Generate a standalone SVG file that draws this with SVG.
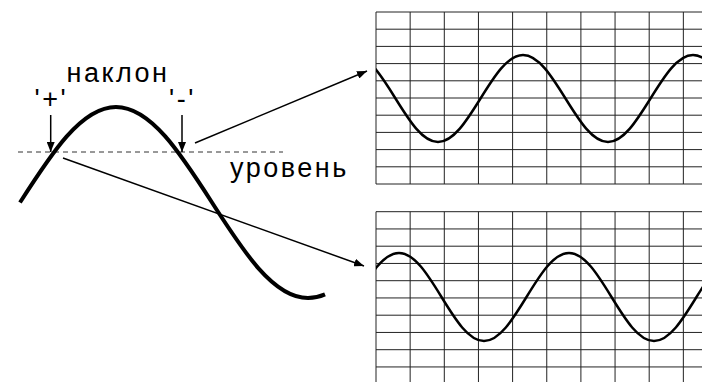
<svg xmlns="http://www.w3.org/2000/svg" width="702" height="382" viewBox="0 0 702 382">
<style>
.lbl{font-family:"Liberation Sans",Arial,sans-serif;font-size:27px;fill:#000;letter-spacing:2.5px}
.grid line{stroke:#222;stroke-width:1}
.wave{fill:none;stroke:#000;stroke-width:2.5}
.conn{stroke:#000;stroke-width:1.5;fill:none}
</style>
<defs>
<marker id="ah" markerUnits="userSpaceOnUse" markerWidth="10" markerHeight="8" refX="10" refY="4" orient="auto"><path d="M0,0 L10,4 L0,8 z" fill="#000"/></marker>
<clipPath id="c1"><rect x="376" y="0" width="326" height="195"/></clipPath>
<clipPath id="c2"><rect x="376" y="200" width="326" height="182"/></clipPath>
</defs>
<rect width="702" height="382" fill="#fff"/>
<g id="signal">
<line x1="18" y1="152" x2="283" y2="152" stroke="#333" stroke-width="1" stroke-dasharray="5,4"/>
<path d="M20,202.5 C51.3,153.6 81.3,107 116,107 C150.7,107 180.7,153.6 212,202.5 C243.3,251.4 273.3,298 308,298 C313.7,298 319.5,296.8 325,294.4" fill="none" stroke="#000" stroke-width="4"/>
<text class="lbl" x="66.5" y="81.5">наклон</text>
<text class="lbl" x="34.5" y="108">'+'</text>
<text class="lbl" x="169" y="108">'-'</text>
<text class="lbl" x="230" y="176.5">уровень</text>
</g>
<g id="scope-top">
<g class="grid">
<line x1="376" y1="12" x2="376" y2="184"/><line x1="410.15" y1="12" x2="410.15" y2="184"/><line x1="444.3" y1="12" x2="444.3" y2="184"/><line x1="478.45" y1="12" x2="478.45" y2="184"/><line x1="512.6" y1="12" x2="512.6" y2="184"/><line x1="546.75" y1="12" x2="546.75" y2="184"/><line x1="580.9" y1="12" x2="580.9" y2="184"/><line x1="615.05" y1="12" x2="615.05" y2="184"/><line x1="649.2" y1="12" x2="649.2" y2="184"/><line x1="683.35" y1="12" x2="683.35" y2="184"/>
<line x1="376" y1="12" x2="702" y2="12"/><line x1="376" y1="29.2" x2="702" y2="29.2"/><line x1="376" y1="46.4" x2="702" y2="46.4"/><line x1="376" y1="63.6" x2="702" y2="63.6"/><line x1="376" y1="80.8" x2="702" y2="80.8"/><line x1="376" y1="98" x2="702" y2="98"/><line x1="376" y1="115.2" x2="702" y2="115.2"/><line x1="376" y1="132.4" x2="702" y2="132.4"/><line x1="376" y1="149.6" x2="702" y2="149.6"/><line x1="376" y1="166.8" x2="702" y2="166.8"/><line x1="376" y1="184" x2="702" y2="184"/>
</g>
<path class="wave" clip-path="url(#c1)" d="M353,55 C368.38,55 381.64,76.21 395.5,98.5 C409.36,120.79 422.62,142 438,142 C453.38,142 466.64,120.79 480.5,98.5 C494.36,76.21 507.62,55 523,55 C538.38,55 551.64,76.21 565.5,98.5 C579.36,120.79 592.62,142 608,142 C623.38,142 636.64,120.79 650.5,98.5 C664.36,76.21 677.62,55 693,55 C708.38,55 721.64,76.21 735.5,98.5"/>
</g>
<g id="scope-bottom">
<g class="grid">
<line x1="376" y1="211.7" x2="376" y2="382"/><line x1="410.15" y1="211.7" x2="410.15" y2="382"/><line x1="444.3" y1="211.7" x2="444.3" y2="382"/><line x1="478.45" y1="211.7" x2="478.45" y2="382"/><line x1="512.6" y1="211.7" x2="512.6" y2="382"/><line x1="546.75" y1="211.7" x2="546.75" y2="382"/><line x1="580.9" y1="211.7" x2="580.9" y2="382"/><line x1="615.05" y1="211.7" x2="615.05" y2="382"/><line x1="649.2" y1="211.7" x2="649.2" y2="382"/><line x1="683.35" y1="211.7" x2="683.35" y2="382"/>
<line x1="376" y1="211.7" x2="702" y2="211.7"/><line x1="376" y1="228.95" x2="702" y2="228.95"/><line x1="376" y1="246.2" x2="702" y2="246.2"/><line x1="376" y1="263.45" x2="702" y2="263.45"/><line x1="376" y1="280.7" x2="702" y2="280.7"/><line x1="376" y1="297.95" x2="702" y2="297.95"/><line x1="376" y1="315.2" x2="702" y2="315.2"/><line x1="376" y1="332.45" x2="702" y2="332.45"/><line x1="376" y1="349.7" x2="702" y2="349.7"/><line x1="376" y1="366.95" x2="702" y2="366.95"/>
</g>
<path class="wave" clip-path="url(#c2)" d="M356.5,297 C370.36,274.46 383.62,253 399,253 C414.38,253 427.64,274.46 441.5,297 C455.36,319.54 468.62,341 484,341 C499.38,341 512.64,319.54 526.5,297 C540.36,274.46 553.62,253 569,253 C584.38,253 597.64,274.46 611.5,297 C625.36,319.54 638.62,341 654,341 C669.38,341 682.64,319.54 696.5,297 C710.36,274.46 723.62,253 739,253"/>
</g>
<g id="connectors">
<line class="conn" x1="50.7" y1="115" x2="50.7" y2="152" marker-end="url(#ah)"/>
<line class="conn" x1="182" y1="115" x2="182" y2="152" marker-end="url(#ah)"/>
<line class="conn" x1="195" y1="143" x2="367" y2="71" marker-end="url(#ah)"/>
<line class="conn" x1="63" y1="158" x2="364" y2="266" marker-end="url(#ah)"/>
</g>
</svg>
